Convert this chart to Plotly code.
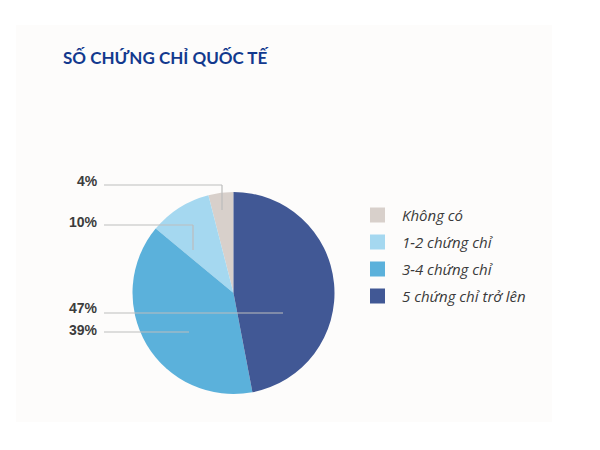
import plotly.graph_objects as go

# Data
labels = ['Không có', '1-2 chứng chỉ', '3-4 chứng chỉ', '5 chứng chỉ trở lên']
values = [4, 10, 39, 47]
colors = ['#D8D0CB', '#A5D8F0', '#5BB1DB', '#415895']

W, H = 600, 450
OFF = 8  # page body margin

def px_x(x):
    return (x - OFF) / W

def px_y(y):
    return 1 - (y - OFF) / H

fig = go.Figure(go.Pie(
    labels=labels,
    values=values,
    sort=False,
    direction='counterclockwise',
    rotation=-14.4,
    textinfo='none',
    hoverinfo='label+percent',
    showlegend=False,
    marker=dict(colors=colors, line=dict(width=0)),
    domain=dict(x=[px_x(132), px_x(335)], y=[px_y(394), px_y(192)]),
))

# faint card behind the chart
shapes = [dict(type='rect', xref='paper', yref='paper',
               x0=px_x(16), x1=px_x(552), y0=px_y(422), y1=px_y(25),
               fillcolor='#FDFCFB', line=dict(width=0), layer='below')]

# percentage labels with elbow leader lines
label_text = ['4%', '10%', '47%', '39%']
label_y = [181, 222, 308, 330]
line_y = [185, 225, 313, 332]
line_end_x = [222, 193, 283, 189]
drop_y = [210, 250, None, None]

annotations = []
for t, ly, y, ex, dy in zip(label_text, label_y, line_y, line_end_x, drop_y):
    annotations.append(dict(
        text=t, xref='paper', yref='paper', x=px_x(100), y=px_y(ly),
        xanchor='right', yanchor='middle', showarrow=False,
        font=dict(family='Liberation Sans Narrow, Arial Narrow, Liberation Sans, sans-serif',
                  size=14, color='#3C3C3C', weight='bold')))
    shapes.append(dict(type='line', xref='paper', yref='paper',
                       x0=px_x(104), x1=px_x(ex), y0=px_y(y), y1=px_y(y),
                       line=dict(color='#BDBDBD', width=1.2)))
    if dy is not None:
        shapes.append(dict(type='line', xref='paper', yref='paper',
                           x0=px_x(ex), x1=px_x(ex), y0=px_y(y), y1=px_y(dy),
                           line=dict(color='#BDBDBD', width=1.2)))

# legend drawn by hand so the row spacing matches
for i, (lab, col) in enumerate(zip(labels, colors)):
    cy = 215 + 27 * i
    shapes.append(dict(type='rect', xref='paper', yref='paper',
                       x0=px_x(370), x1=px_x(385), y0=px_y(cy + 7.5), y1=px_y(cy - 7.5),
                       fillcolor=col, line=dict(width=0)))
    annotations.append(dict(
        text=lab, xref='paper', yref='paper', x=px_x(400), y=px_y(cy),
        xanchor='left', yanchor='middle', showarrow=False,
        font=dict(family='Open Sans, sans-serif', size=15, color='#3A3A3A', style='italic')))

annotations.append(dict(
    text='<b>SỐ CHỨNG CHỈ QUỐC TẾ</b>', xref='paper', yref='paper',
    x=px_x(61), y=px_y(57), xanchor='left', yanchor='middle', showarrow=False,
    font=dict(family='Lato, sans-serif', size=17, color='#12398E')))

fig.update_layout(
    width=W, height=H,
    margin=dict(l=0, r=0, t=0, b=0),
    paper_bgcolor='white',
    shapes=shapes,
    annotations=annotations,
)

fig.write_html("out.html")
